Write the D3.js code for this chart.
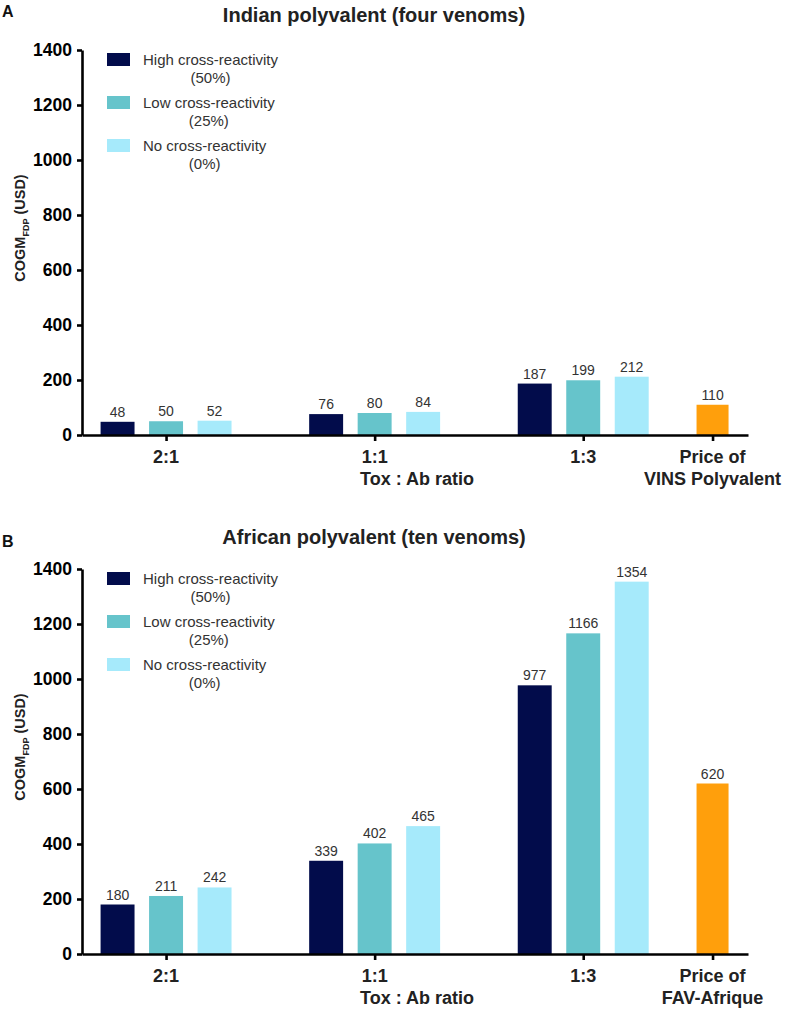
<!DOCTYPE html>
<html>
<head>
<meta charset="utf-8">
<script src="https://cdn.jsdelivr.net/npm/d3@7"></script>
<style>
  html, body { margin: 0; padding: 0; background: #fff; }
  svg { display: block; font-family: "Liberation Sans", Arial, Helvetica, sans-serif; }
</style>
</head>
<body>
<svg id="chart" width="787" height="1010"></svg>
<script>
// ---------- data ----------
const categories = ["2:1", "1:1", "1:3"];
const seriesNames = ["High cross-reactivity", "Low cross-reactivity", "No cross-reactivity"];
const seriesPct = ["(50%)", "(25%)", "(0%)"];
const seriesColors = ["#020c4b", "#66c4cb", "#a6eafb"];
const priceColor = "#ff9f0c";

// values per series, ordered by category (2:1, 1:1, 1:3)
const indianHigh = [48, 76, 187];
const indianLow = [50, 80, 199];
const indianNone = [52, 84, 212];
const indianPrice = 110;
const indianPriceLabel = ["Price of", "VINS Polyvalent"];

const africanHigh = [180, 339, 977];
const africanLow = [211, 402, 1166];
const africanNone = [242, 465, 1354];
const africanPrice = 620;
const africanPriceLabel = ["Price of", "FAV-Afrique"];

const yTicks = [0, 200, 400, 600, 800, 1000, 1200, 1400];
const xTitle = "Tox : Ab ratio";

// ---------- layout ----------
const svg = d3.select("#chart");
const axisLeftX = 82, axisRightX = 748;
const xDomain = [-0.403, 2.79];   // category slots: 0,1,2 ; price slot below
const priceSlot = 2.62;

function drawPanel(opt) {
  const g = svg.append("g");
  const y = d3.scaleLinear().domain([0, 1400]).range([opt.y0, opt.y0 - 385]);
  const x = d3.scaleLinear().domain(xDomain).range([axisLeftX, axisRightX]);
  const inner = d3.scaleBand().domain(seriesNames).range([-72.75, 72.75])
    .paddingInner(0.3).paddingOuter(0.15);

  // panel letter + title
  g.append("text").attr("x", 2).attr("y", opt.y0 - 418 + opt.letterDy)
    .attr("font-size", 16).attr("font-weight", "bold").attr("fill", "#111").text(opt.letter);
  g.append("text").attr("x", 374).attr("y", opt.y0 - 413 + opt.titleDy)
    .attr("text-anchor", "middle").attr("font-size", 20).attr("font-weight", "bold")
    .attr("fill", "#222").text(opt.title);

  // bars
  const series = opt.values;
  series.forEach((vals, si) => {
    g.selectAll(null).data(vals).enter().append("rect")
      .attr("x", (d, i) => x(i) + inner(seriesNames[si]))
      .attr("y", d => y(d))
      .attr("width", inner.bandwidth())
      .attr("height", d => y(0) - y(d))
      .attr("fill", seriesColors[si]);
    g.selectAll(null).data(vals).enter().append("text")
      .attr("x", (d, i) => x(i) + inner(seriesNames[si]) + inner.bandwidth() / 2)
      .attr("y", d => y(d) - 5)
      .attr("text-anchor", "middle").attr("font-size", 14).attr("fill", "#333")
      .text(d => d);
  });
  // price bar
  const pw = 32;
  g.append("rect").attr("x", x(priceSlot) - pw / 2).attr("y", y(opt.price))
    .attr("width", pw).attr("height", y(0) - y(opt.price)).attr("fill", priceColor);
  g.append("text").attr("x", x(priceSlot)).attr("y", y(opt.price) - 5)
    .attr("text-anchor", "middle").attr("font-size", 14).attr("fill", "#333").text(opt.price);

  // y axis
  const ya = g.append("g").attr("transform", `translate(${axisLeftX},0)`)
    .call(d3.axisLeft(y).tickValues(yTicks).tickFormat(d3.format("d"))
      .tickSize(5).tickPadding(5).tickSizeOuter(0));
  ya.select(".domain").attr("stroke", "#000").attr("stroke-width", 2.6);
  ya.selectAll(".tick line").attr("stroke", "#000").attr("stroke-width", 2.6);
  ya.selectAll(".tick text").attr("font-size", 17.5).attr("font-weight", "bold")
    .attr("fill", "#000").attr("font-family", "Liberation Sans, Arial, sans-serif");

  // x axis
  const xa = g.append("g").attr("transform", `translate(0,${opt.y0})`)
    .call(d3.axisBottom(x).tickValues([0, 1, 2, priceSlot]).tickSize(6).tickSizeOuter(0).tickFormat(""));
  xa.select(".domain").attr("stroke", "#000").attr("stroke-width", 2.6);
  xa.selectAll(".tick line").attr("stroke", "#000").attr("stroke-width", 2.6);

  g.selectAll(null).data(categories).enter().append("text")
    .attr("x", (d, i) => x(i)).attr("y", opt.y0 + 28)
    .attr("text-anchor", "middle").attr("font-size", 18).attr("font-weight", "bold")
    .attr("fill", "#222").text(d => d);
  g.append("text").attr("x", 417).attr("y", opt.y0 + 50)
    .attr("text-anchor", "middle").attr("font-size", 18).attr("font-weight", "bold")
    .attr("fill", "#222").text(xTitle);
  const pl = g.append("text").attr("text-anchor", "middle").attr("font-size", 18)
    .attr("font-weight", "bold").attr("fill", "#222");
  opt.priceLabel.forEach((t, i) => {
    pl.append("tspan").attr("x", x(priceSlot)).attr("y", opt.y0 + 28 + i * 22).text(t);
  });

  // y title
  const yt = g.append("text")
    .attr("transform", `translate(25,${opt.y0 - 207}) rotate(-90)`)
    .attr("text-anchor", "middle").attr("font-size", 14.5).attr("font-weight", "bold")
    .attr("fill", "#222");
  yt.append("tspan").text("COGM");
  yt.append("tspan").attr("font-size", 9).attr("dy", 4).text("FDP");
  yt.append("tspan").attr("dy", -4).text(" (USD)");

  // legend
  const top = y(1400);
  seriesNames.forEach((name, i) => {
    const ly = top + 3 + i * 43;
    g.append("rect").attr("x", 107).attr("y", ly).attr("width", 23).attr("height", 13)
      .attr("fill", seriesColors[i]);
    const t1 = g.append("text").attr("x", 143).attr("y", ly + 12)
      .attr("font-size", 15).attr("fill", "#333").text(name);
    const w = t1.node().getComputedTextLength();
    g.append("text").attr("x", 143 + w / 2).attr("y", ly + 30)
      .attr("text-anchor", "middle").attr("font-size", 15).attr("fill", "#333").text(seriesPct[i]);
  });
}

drawPanel({
  letter: "A", letterDy: 0, titleDy: 0, title: "Indian polyvalent (four venoms)", y0: 435,
  values: [indianHigh, indianLow, indianNone], price: indianPrice, priceLabel: indianPriceLabel
});
drawPanel({
  letter: "B", letterDy: 11, titleDy: 3, title: "African polyvalent (ten venoms)", y0: 954,
  values: [africanHigh, africanLow, africanNone], price: africanPrice, priceLabel: africanPriceLabel
});
</script>
</body>
</html>
